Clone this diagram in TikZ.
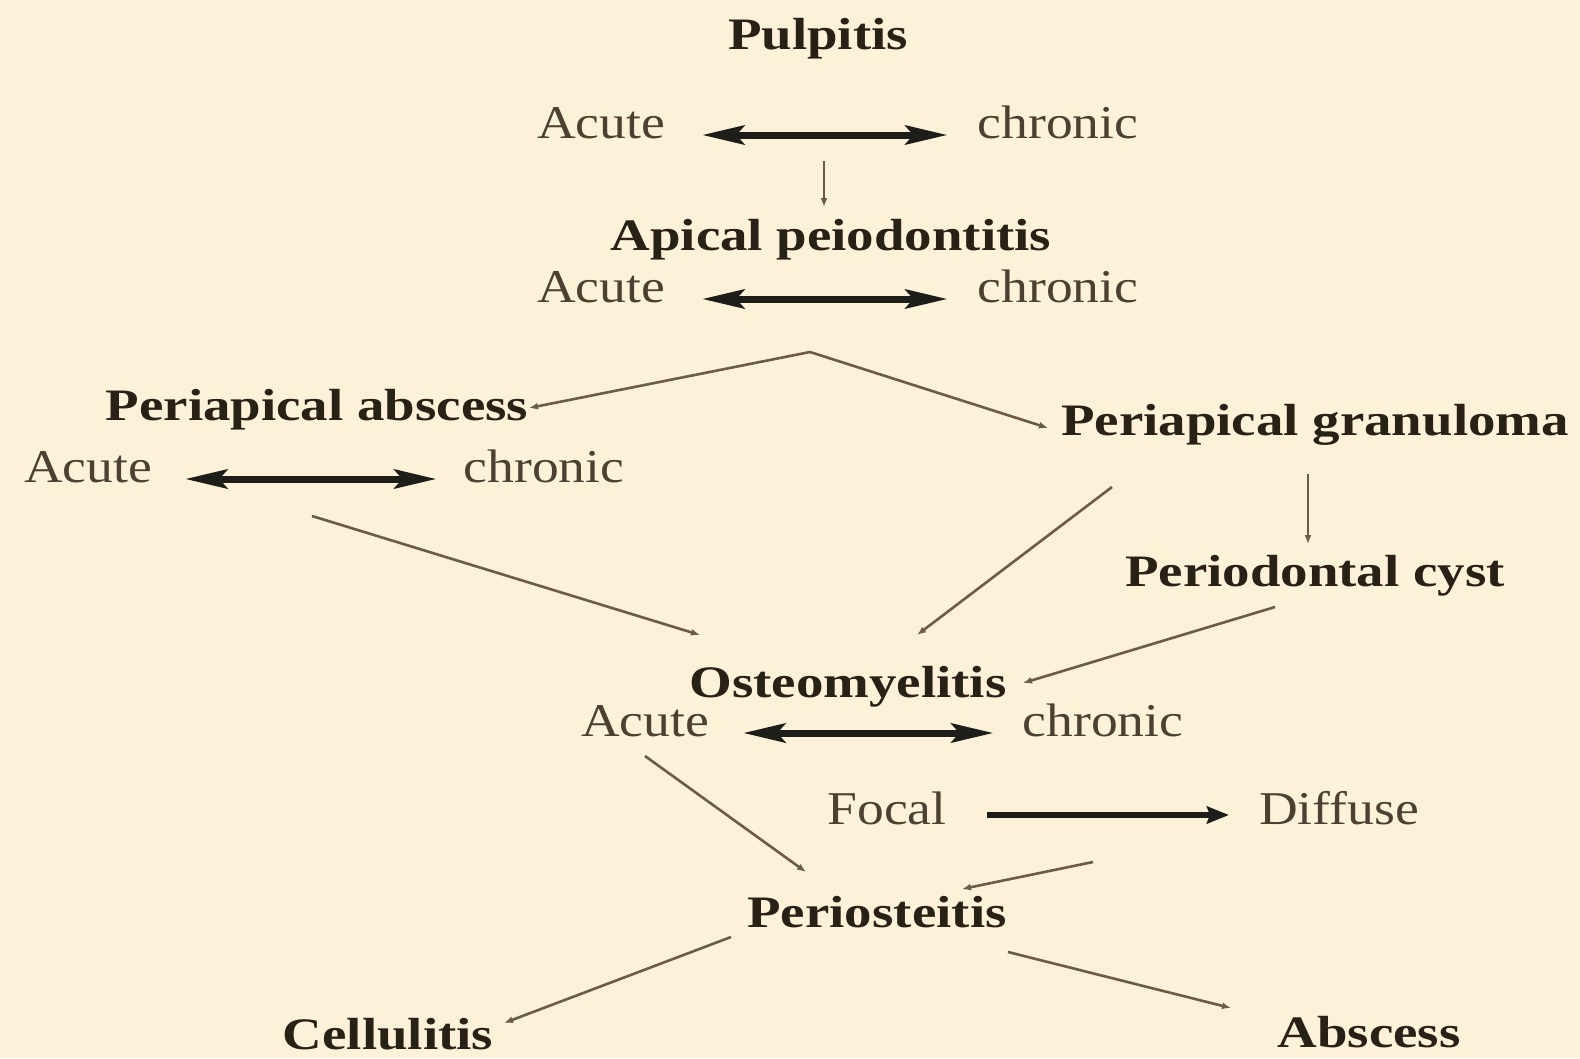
\documentclass[tikz,border=0pt]{standalone}
\usepackage{fontspec}
\setmainfont{Liberation Serif}
\newfontfamily\regf{Liberation Serif}[FakeStretch=1.14]
\newfontfamily\bldf{Liberation Serif}[FakeStretch=1.22]
\usetikzlibrary{arrows.meta}
\definecolor{bg}{HTML}{FDF1D8}
\definecolor{txt}{HTML}{4A4131}
\definecolor{hdc}{HTML}{272215}
\definecolor{ln}{HTML}{6B5C44}
\definecolor{thk}{HTML}{1D1D19}
\begin{document}
\begin{tikzpicture}[x=1pt,y=-1pt,
  lbl/.style={inner sep=0pt, anchor=base, font=\regf\fontsize{47}{56}\selectfont, text=txt},
  hd/.style={inner sep=0pt, anchor=base, font=\bldf\bfseries\fontsize{45}{54}\selectfont, text=hdc},
  thinarr/.style={draw=ln, line width=2.6pt, -{Latex[length=9pt,width=7pt]}},
  dbl/.style={draw=thk, line width=7pt, {Stealth[length=42pt,width=19pt,inset=8pt]}-{Stealth[length=42pt,width=19pt,inset=8pt]}},
  sgl/.style={draw=thk, line width=5.5pt, -{Stealth[length=22pt,width=17pt,inset=3pt]}}
  ]
\fill[bg] (0,0) rectangle (1580,1058);
\useasboundingbox (0,0) rectangle (1580,1058);

% texts
\node[hd] (pulp) at (818,49) {Pulpitis};
\node[lbl] (a1) at (601,138) {Acute};
\node[lbl] (c1) at (1058,138) {chronic};
\node[hd] (apic) at (831,250) {Apical peiodontitis};
\node[lbl] (a2) at (601,302) {Acute};
\node[lbl] (c2) at (1058,302) {chronic};
\node[hd] (pabs) at (317,420) {Periapical abscess};
\node[hd] (pgran) at (1315,435) {Periapical granuloma};
\node[lbl] (a3) at (88,482) {Acute};
\node[lbl] (c3) at (544,482) {chronic};
\node[hd] (cyst) at (1315,586) {Periodontal cyst};
\node[hd] (ost) at (848,697) {Osteomyelitis};
\node[lbl] (a4) at (645,736) {Acute};
\node[lbl] (c4) at (1103,736) {chronic};
\node[lbl] (focal) at (887,824) {Focal};
\node[lbl] (diff) at (1339,824) {Diffuse};
\node[hd] (peri) at (877,927) {Periosteitis};
\node[hd] (cell) at (388,1049) {Cellulitis};
\node[hd] (absc) at (1369,1047) {Abscess};

% double arrows
\draw[dbl] ([xshift=37pt,yshift=3pt]a1.base east) -- ([xshift=-30pt,yshift=3pt]c1.base west);
\draw[dbl] ([xshift=37pt,yshift=3pt]a2.base east) -- ([xshift=-30pt,yshift=3pt]c2.base west);
\draw[dbl] ([xshift=33pt,yshift=3pt]a3.base east) -- ([xshift=-27pt,yshift=3pt]c3.base west);
\draw[dbl] ([xshift=34pt,yshift=3pt]a4.base east) -- ([xshift=-29pt,yshift=3pt]c4.base west);
\draw[sgl] ([xshift=40pt,yshift=9pt]focal.base east) -- ([xshift=-30pt,yshift=9pt]diff.base west);

% connector end points
\coordinate (p1s) at (824,161);
\coordinate (p1e) at (824,207);
\coordinate (apex) at (810,352);
\coordinate (pabsE) at (529,408);
\coordinate (pgranW) at (1048,428);
\coordinate (a3s) at (312,516);
\coordinate (ostNW) at (700,635);
\coordinate (grs) at (1112,487);
\coordinate (ostN) at (917,635);
\coordinate (grc1) at (1308,474);
\coordinate (grc2) at (1308,544);
\coordinate (cys) at (1275,607);
\coordinate (ostE) at (1023,683);
\coordinate (a4s) at (645,756);
\coordinate (perNW) at (806,872);
\coordinate (dfs) at (1093,862);
\coordinate (perN) at (962,889);
\coordinate (pcs) at (731,937);
\coordinate (cellE) at (504,1023);
\coordinate (pas) at (1008,952);
\coordinate (abscW) at (1231,1008);

\draw[thinarr] (p1s) -- (p1e);
\draw[thinarr] (apex) -- (pabsE);
\draw[thinarr] (apex) -- (pgranW);
\draw[thinarr] (a3s) -- (ostNW);
\draw[thinarr] (grs) -- (ostN);
\draw[thinarr] (grc1) -- (grc2);
\draw[thinarr] (cys) -- (ostE);
\draw[thinarr] (a4s) -- (perNW);
\draw[thinarr] (dfs) -- (perN);
\draw[thinarr] (pcs) -- (cellE);
\draw[thinarr] (pas) -- (abscW);
\end{tikzpicture}
\end{document}
